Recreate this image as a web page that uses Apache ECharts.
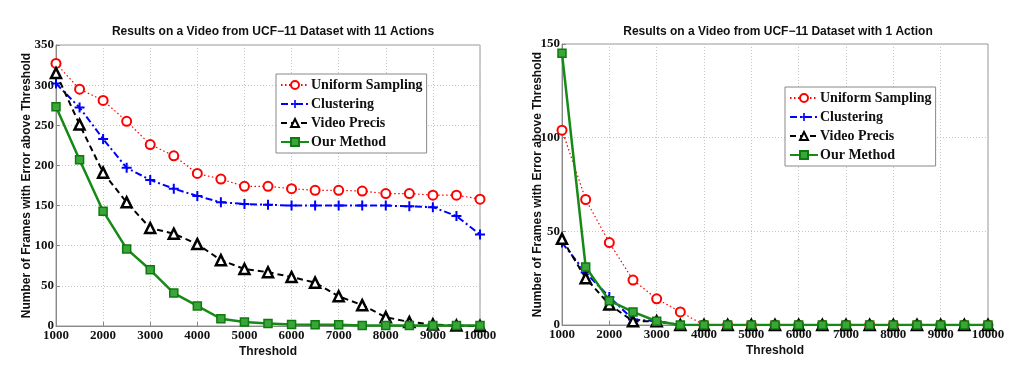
<!DOCTYPE html>
<html><head><meta charset="utf-8">
<script src="https://cdn.jsdelivr.net/npm/echarts@6/dist/echarts.min.js"></script>
<style>html,body{margin:0;padding:0;background:#fff}#c{width:1024px;height:371px}</style>
</head><body><div id="c"></div>
<script>
const thresholds = [1000,1500,2000,2500,3000,3500,4000,4500,5000,5500,6000,6500,7000,7500,8000,8500,9000,9500,10000];
const seriesNames = ['Uniform Sampling','Clustering','Video Precis','Our Method'];
const titleLeft = 'Results on a Video from UCF\u221211 Dataset with 11 Actions';
const titleRight = 'Results on a Video from UCF\u221211 Dataset with 1 Action';
const yAxisName = 'Number of Frames with Error above Threshold';
const xAxisName = 'Threshold';
// Left chart (11 actions)
const uniform11 = [327,295,281,255,226,212,190,183,174,174,171,169,169,168,165,165,163,163,158];
const clustering11 = [302,272,233,197,182,171,162,154,152,151,150,150,150,150,150,149,148,137,114];
const precis11 = [315,251,191,154,122,115,102,82,71,67,61,54,37,26,11,5,2,0.5,0];
const ours11 = [273,207,143,96,70,41,25,9,5,3,2,1.5,1.5,0.5,0.5,0.5,0.5,0.5,0.5];
// Right chart (1 action)
const uniform1 = [104,67,44,24,14,7,0,0,0,0,0,0,0,0,0,0,0,0,0];
const clustering1 = [44,28,15,3,2,0,0,0,0,0,0,0,0,0,0,0,0,0,0];
const precis1 = [46,25,11,2,2,0,0,0,0,0,0,0,0,0,0,0,0,0,0];
const ours1 = [145,31,13,7,2,0,0,0,0,0,0,0,0,0,0,0,0,0,0];

const pairs = arr => thresholds.map((t,i)=>[t,arr[i]]);
const plusPath = 'path://M4,0H6V4H10V6H6V10H4V6H0V4H4Z';
const styles = [
  {color:'#ff0000', symbol:'circle', symbolSize:9, line:{width:1.2,type:[1.5,2.5]}, item:{color:'#fff',borderColor:'#ff0000',borderWidth:2}},
  {color:'#0000ff', symbol:plusPath, symbolSize:10, line:{width:2,type:[7,3,2,3]}, item:{color:'#0000ff',borderWidth:0}},
  {color:'#000000', symbol:'triangle', symbolSize:10, line:{width:2,type:[6,4]}, item:{color:'#fff',borderColor:'#000',borderWidth:2.5}},
  {color:'#168a16', symbol:'rect', symbolSize:8, line:{width:2.5,type:'solid'}, item:{color:'#3aa63a',borderColor:'#0f7a0f',borderWidth:1.5}}
];
const dataSets = [[uniform11,clustering11,precis11,ours11],[uniform1,clustering1,precis1,ours1]];
const serif = 'Liberation Serif';
const sans = 'Liberation Sans';

function mkX(gi){
  return {gridIndex:gi, type:'value', min:1000, max:10000, interval:1000,
    name:xAxisName, nameLocation:'middle', nameGap:20, nameMoveOverlap:false,
    nameTextStyle:{fontFamily:sans, fontWeight:'bold', fontSize:12, color:'#111'},
    axisLine:{show:true, lineStyle:{color:'#888'}},
    axisTick:{show:true, inside:true, length:4, lineStyle:{color:'#888'}},
    axisLabel:{fontFamily:serif, fontWeight:'bold', fontSize:13, color:'#111', margin:3, formatter:v=>String(v)},
    splitLine:{show:true, lineStyle:{color:'#c4c4c4', type:[1,2], width:1}}};
}
function mkY(gi,max){
  return {gridIndex:gi, type:'value', min:0, max:max, interval:50,
    name:yAxisName, nameLocation:'middle', nameGap:gi===0?23:18, nameRotate:90, nameMoveOverlap:false,
    nameTextStyle:{fontFamily:sans, fontWeight:'bold', fontSize:12, color:'#111'},
    axisLine:{show:true, lineStyle:{color:'#888'}},
    axisTick:{show:true, inside:true, length:4, lineStyle:{color:'#888'}},
    axisLabel:{fontFamily:serif, fontWeight:'bold', fontSize:13, color:'#111', margin:2, formatter:v=>String(v)},
    splitLine:{show:true, lineStyle:{color:'#c4c4c4', type:[1,2], width:1}}};
}
const series = [];
[0,1].forEach(gi=>{
  seriesNames.forEach((n,si)=>{
    const s = styles[si];
    series.push({name:n, type:'line', xAxisIndex:gi, yAxisIndex:gi,
      data:pairs(dataSets[gi][si]), symbol:s.symbol, symbolSize:s.symbolSize,
      showAllSymbol:true, animation:false, z: (gi===1 && si===3)?5:2+si,
      lineStyle:Object.assign({color:s.color}, s.line), itemStyle:s.item});
  });
});
function mkLegend(left,top){
  return {left:left, top:top, orient:'vertical', data:seriesNames, itemWidth:28, itemHeight:10, itemGap:5,
    padding:[4,4,4,4], borderColor:'#888', borderWidth:1, backgroundColor:'#fff',
    selectedMode:false,
    textStyle:{fontFamily:serif, fontWeight:'bold', fontSize:14, color:'#111', padding:[0,0,0,-3]}};
}
const chart = echarts.init(document.getElementById('c'), null, {renderer:'canvas'});
chart.setOption({
  backgroundColor:'#fff',
  animation:false,
  title:[
    {text:titleLeft, left:268, top:21, textAlign:'center', textStyle:{fontFamily:sans, fontWeight:'bold', fontSize:12, color:'#111'}},
    {text:titleRight, left:773, top:21, textAlign:'center', textStyle:{fontFamily:sans, fontWeight:'bold', fontSize:12, color:'#111'}}
  ],
  legend:[mkLegend(276,74), mkLegend(785,87)],
  grid:[
    {left:56, top:45, width:424, height:281, show:true, borderColor:'#999', borderWidth:1, containLabel:false},
    {left:562, top:44, width:426, height:281, show:true, borderColor:'#999', borderWidth:1, containLabel:false}
  ],
  xAxis:[mkX(0), mkX(1)],
  yAxis:[mkY(0,350), mkY(1,150)],
  series:series
});
</script></body></html>
